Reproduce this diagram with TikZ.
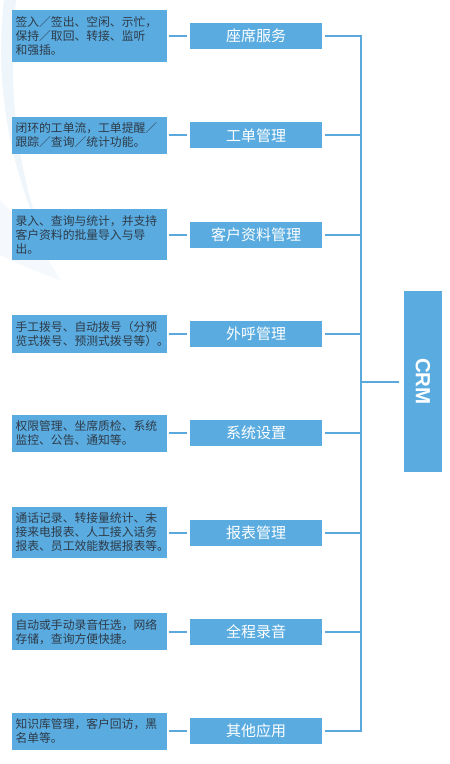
\documentclass[tikz,border=0pt]{standalone}
\usepackage{fontspec}
\usepackage{graphicx}
\setmainfont{Noto Sans CJK SC}
\newfontfamily\latinfont{Liberation Sans}
\usetikzlibrary{positioning}
\definecolor{boxFill}{HTML}{5AACE0}
\definecolor{linkColor}{HTML}{5AA8DC}
\definecolor{descText}{HTML}{2E3A48}
\definecolor{swoosh}{HTML}{EEF5FB}

\begin{document}
\begin{tikzpicture}[
    x=1pt, y=-1pt,
    title/.style={
        rectangle, fill=boxFill,
        minimum width=132pt, minimum height=26pt, inner sep=0pt,
        text=white, font=\fontsize{15}{18}\selectfont
    },
    desc/.style={
        rectangle, fill=boxFill,
        text width=147pt, inner xsep=4pt, inner ysep=6pt,
        align=left, text=descText,
        font=\fontsize{11.8}{14}\selectfont
    },
    link/.style={draw=linkColor, line width=2pt}
]
  \useasboundingbox (0,0) rectangle (450,764);

  % faint background swoosh
  \fill[swoosh] (4,0) .. controls (-6,90) and (10,180) .. (60,275)
      .. controls (20,200) and (6,100) .. (16,0) -- cycle;
  \fill[swoosh!60] (0,200) .. controls (30,230) and (50,260) .. (60,280)
      .. controls (30,270) and (10,260) .. (0,255) -- cycle;

  % Function titles
  \node[title] at (256,36) (t1) {座席服务};
  \node[title, below=72.9pt of t1] (t2) {工单管理};
  \node[title, below=72.9pt of t2] (t3) {客户资料管理};
  \node[title, below=72.9pt of t3] (t4) {外呼管理};
  \node[title, below=72.9pt of t4] (t5) {系统设置};
  \node[title, below=72.9pt of t5] (t6) {报表管理};
  \node[title, below=72.9pt of t6] (t7) {全程录音};
  \node[title, below=72.9pt of t7] (t8) {其他应用};

  % Descriptions
  \node[desc, left=23pt of t1] (d1) {签入／签出、空闲、示忙，\\保持／取回、转接、监听\\和强插。};
  \node[desc, left=23pt of t2] (d2) {闭环的工单流，工单提醒／\\跟踪／查询／统计功能。};
  \node[desc, left=23pt of t3] (d3) {录入、查询与统计，并支持\\客户资料的批量导入与导\\出。};
  \node[desc, left=23pt of t4] (d4) {手工拨号、自动拨号（分预\\览式拨号、预测式拨号等）。};
  \node[desc, left=23pt of t5] (d5) {权限管理、坐席质检、系统\\监控、公告、通知等。};
  \node[desc, left=23pt of t6] (d6) {通话记录、转接量统计、未\\接来电报表、人工接入话务\\报表、员工效能数据报表等。};
  \node[desc, left=23pt of t7] (d7) {自动或手动录音任选，网络\\存储，查询方便快捷。};
  \node[desc, left=23pt of t8] (d8) {知识库管理，客户回访，黑\\名单等。};

  % CRM
  \node[rectangle, fill=boxFill, minimum width=38pt, minimum height=181pt,
        inner sep=0pt, text=white] at (423,381.5) (crm)
      {\rotatebox{-90}{\latinfont\bfseries\fontsize{20.5}{24}\selectfont CRM}};
  \coordinate (bus) at (361,381.5);

  % Connectors
  \draw[link, shorten <=2pt, shorten >=3pt] (d1) -- (t1);
  \draw[link, shorten <=2pt, shorten >=3pt] (d2) -- (t2);
  \draw[link, shorten <=2pt, shorten >=3pt] (d3) -- (t3);
  \draw[link, shorten <=2pt, shorten >=3pt] (d4) -- (t4);
  \draw[link, shorten <=2pt, shorten >=3pt] (d5) -- (t5);
  \draw[link, shorten <=2pt, shorten >=3pt] (d6) -- (t6);
  \draw[link, shorten <=2pt, shorten >=3pt] (d7) -- (t7);
  \draw[link, shorten <=2pt, shorten >=3pt] (d8) -- (t8);

  % Bus to CRM
  \draw[link, shorten <=3pt, shorten >=3pt] (t1.east) -- (t1 -| bus) -- (t8 -| bus) -- (t8.east);
  \draw[link, shorten <=3pt] (t2.east) -- (t2 -| bus);
  \draw[link, shorten <=3pt] (t3.east) -- (t3 -| bus);
  \draw[link, shorten <=3pt] (t4.east) -- (t4 -| bus);
  \draw[link, shorten <=3pt] (t5.east) -- (t5 -| bus);
  \draw[link, shorten <=3pt] (t6.east) -- (t6 -| bus);
  \draw[link, shorten <=3pt] (t7.east) -- (t7 -| bus);
  \draw[link, shorten >=5pt] (bus) -- (crm.west);

\end{tikzpicture}
\end{document}
